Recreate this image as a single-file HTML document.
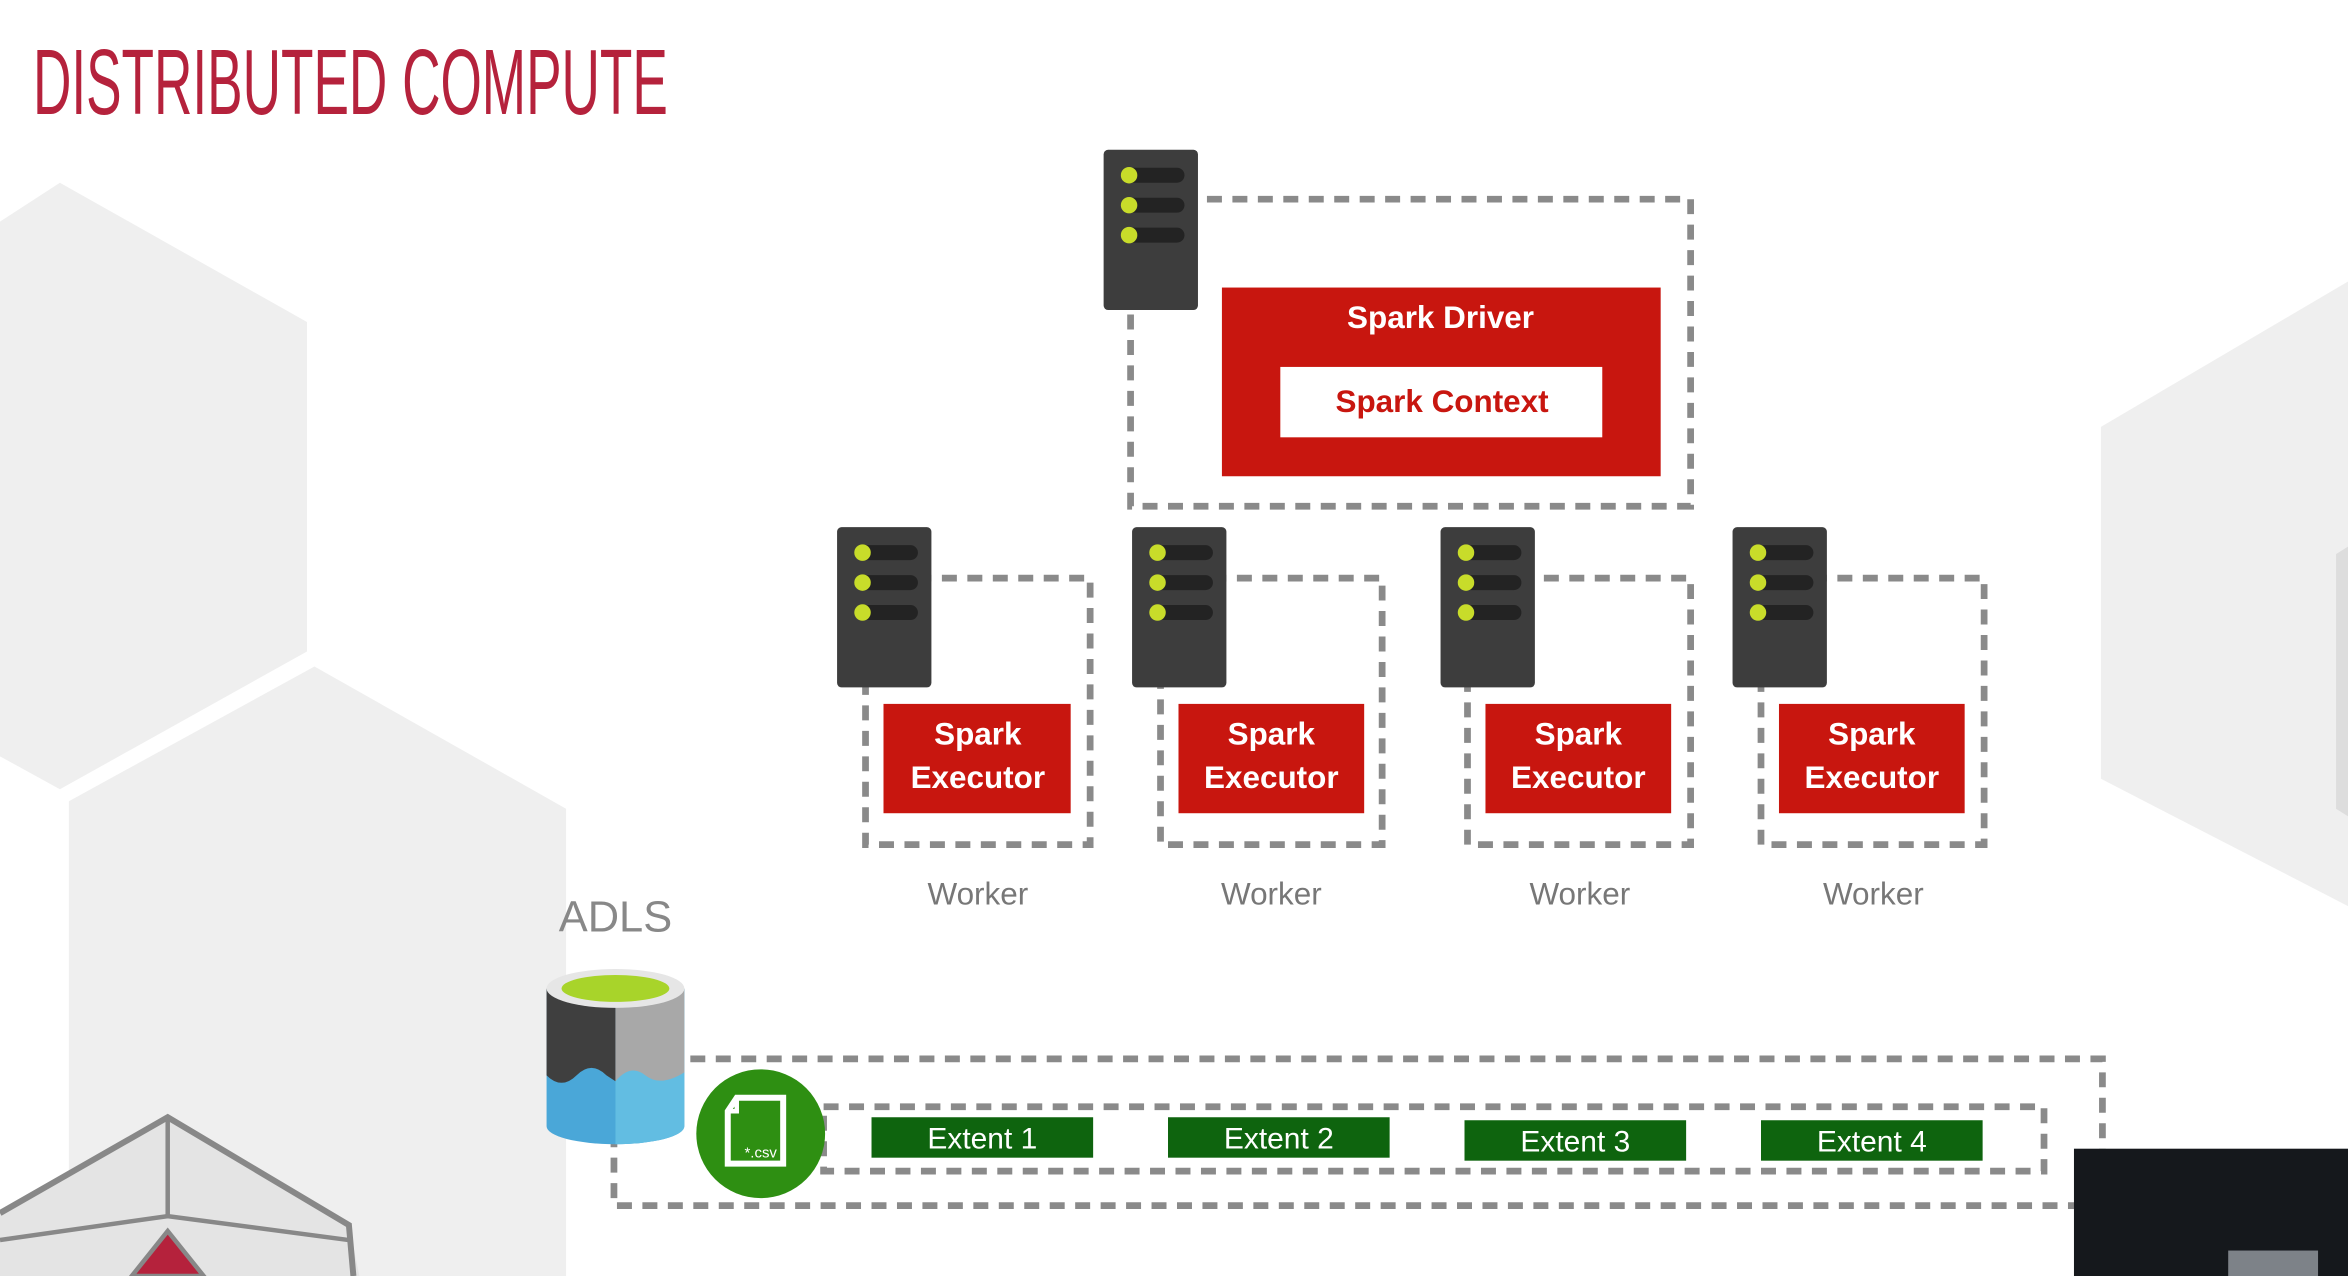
<!DOCTYPE html>
<html><head><meta charset="utf-8"><style>
html,body{margin:0;padding:0;background:#fff;overflow:hidden}
svg{display:block}
text{font-family:"Liberation Sans",sans-serif}
</style></head><body>
<svg width="2348" height="1276" viewBox="0 0 1568 852" preserveAspectRatio="none" xmlns="http://www.w3.org/2000/svg">
<defs>
<g id="srv">
<rect x="0" y="0" width="63" height="107" rx="3" fill="#3d3d3d"/>
<rect x="12" y="12" width="42" height="10" rx="5" fill="#232323"/>
<rect x="12" y="32" width="42" height="10" rx="5" fill="#232323"/>
<rect x="12" y="52" width="42" height="10" rx="5" fill="#232323"/>
<circle cx="17" cy="17" r="5.5" fill="#c8dc2a"/>
<circle cx="17" cy="37" r="5.5" fill="#c8dc2a"/>
<circle cx="17" cy="57" r="5.5" fill="#c8dc2a"/>
</g>
</defs>
<rect width="1568" height="852" fill="#fff"/>
<polygon points="0,148 40,122 205,215 205,435 40,527 0,505" fill="#efefef"/>
<polygon points="46,535 210,445 378,540 378,852 46,852" fill="#efefef"/>
<polygon points="1403,285 1568,188 1568,605 1403,520" fill="#efefef"/>
<polygon points="1560,370 1568,365 1568,545 1560,540" fill="#ddd"/>
<polygon points="0,810 112,746 233,818 240,852 0,852" fill="#e4e4e4"/>
<polyline points="0,810 112,746 233,818 236,852" fill="none" stroke="#888" stroke-width="4"/>
<line x1="112" y1="746" x2="112" y2="812" stroke="#888" stroke-width="3"/>
<polyline points="0,828 112,812 233,828" fill="none" stroke="#888" stroke-width="3"/>
<polygon points="112,822 88,852 136,852" fill="#b5223c" stroke="#888" stroke-width="3"/>
<text x="22" y="76" font-size="62" fill="#b5223c" textLength="424" lengthAdjust="spacingAndGlyphs" font-family="Liberation Sans Narrow,Liberation Sans,sans-serif">DISTRIBUTED COMPUTE</text>
<g fill="none" stroke="#8a8a8a" stroke-width="4.5" stroke-dasharray="10,7">
<rect x="755" y="133" width="374" height="205"/>
<rect x="578" y="386" width="150" height="178"/>
<rect x="775" y="386" width="148" height="178"/>
<rect x="980" y="386" width="149" height="178"/>
<rect x="1176" y="386" width="149" height="178"/>
<rect x="410" y="707" width="994" height="98"/>
<rect x="550" y="739" width="815" height="43"/>
</g>
<use href="#srv" x="737" y="100"/>
<rect x="816" y="192" width="293" height="126" fill="#c8160f"/>
<text x="962" y="219" font-size="21" font-weight="bold" fill="#fff" text-anchor="middle">Spark Driver</text>
<rect x="855" y="245" width="215" height="47" fill="#fff"/>
<text x="963" y="275" font-size="21" font-weight="bold" fill="#c8160f" text-anchor="middle">Spark Context</text>
<use href="#srv" x="559" y="352"/>
<use href="#srv" x="756" y="352"/>
<use href="#srv" x="962" y="352"/>
<use href="#srv" x="1157" y="352"/>
<g fill="#c8160f">
<rect x="590" y="470" width="125" height="73"/>
<rect x="787" y="470" width="124" height="73"/>
<rect x="992" y="470" width="124" height="73"/>
<rect x="1188" y="470" width="124" height="73"/>
</g>
<g font-size="21" font-weight="bold" fill="#fff" text-anchor="middle">
<text x="653" y="497">Spark</text><text x="653" y="526">Executor</text>
<text x="849" y="497">Spark</text><text x="849" y="526">Executor</text>
<text x="1054" y="497">Spark</text><text x="1054" y="526">Executor</text>
<text x="1250" y="497">Spark</text><text x="1250" y="526">Executor</text>
</g>
<g font-size="21" fill="#777" text-anchor="middle">
<text x="653" y="604">Worker</text><text x="849" y="604">Worker</text>
<text x="1055" y="604">Worker</text><text x="1251" y="604">Worker</text>
</g>
<text x="411" y="622" font-size="29" fill="#888" text-anchor="middle">ADLS</text>
<path d="M365,660 L365,752 A46,12 0 0 0 457,752 L457,660 Z" fill="#4aa7d8"/>
<path d="M411,660 L411,764 A46,12 0 0 0 457,752 L457,660 Z" fill="#62bde2"/>
<path d="M365,660 L365,718 Q375,728 385,718 Q395,708 405,718 L411,722 L411,660 Z" fill="#3f3f3f"/>
<path d="M411,660 L411,722 Q421,710 431,718 Q441,726 457,716 L457,660 Z" fill="#a8a8a8"/>
<ellipse cx="411" cy="660" rx="46" ry="13" fill="#e6e6e6"/>
<ellipse cx="411" cy="660" rx="36" ry="9" fill="#a8d42a"/>
<circle cx="508" cy="757" r="43" fill="#2e8f12"/>
<path d="M492,733 L523,733 L523,777 L486,777 L486,742 Z" fill="none" stroke="#fff" stroke-width="4"/>
<path d="M492,733 L492,742 L486,742" fill="none" stroke="#fff" stroke-width="3"/>
<text x="508" y="773" font-size="10" fill="#fff" text-anchor="middle">*.csv</text>
<g fill="#0e640e">
<rect x="582" y="746" width="148" height="27"/>
<rect x="780" y="746" width="148" height="27"/>
<rect x="978" y="748" width="148" height="27"/>
<rect x="1176" y="748" width="148" height="27"/>
</g>
<g font-size="20" fill="#fff" text-anchor="middle">
<text x="656" y="767">Extent 1</text><text x="854" y="767">Extent 2</text>
<text x="1052" y="769">Extent 3</text><text x="1250" y="769">Extent 4</text>
</g>
<rect x="1385" y="767" width="183" height="85" fill="#15181c"/>
<rect x="1488" y="835" width="60" height="17" fill="#7d8288"/>
</svg>
</body></html>
